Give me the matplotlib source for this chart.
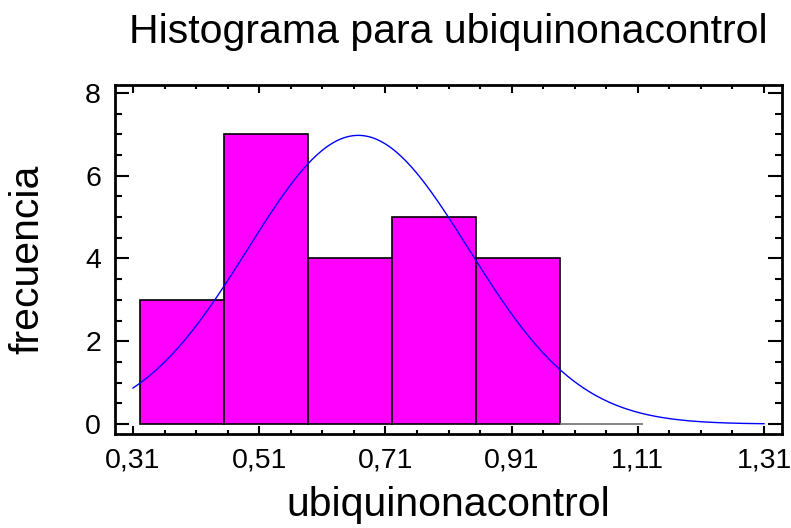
import numpy as np
import matplotlib
matplotlib.use("Agg")
import matplotlib.pyplot as plt
from matplotlib.ticker import FixedLocator, MultipleLocator, FuncFormatter

# ---- data ----
bin_edges = [0.321, 0.454, 0.587, 0.720, 0.853, 0.986, 1.119]
counts = [3, 7, 4, 5, 4, 0]
fit_mean = 0.667
fit_sd = 0.175
n_obs = 23
curve_range = [0.31, 1.31]
x_ticks = [0.31, 0.51, 0.71, 0.91, 1.11, 1.31]
y_ticks = [0, 2, 4, 6, 8]
title = "Histograma para ubiquinonacontrol"
xlabel = "ubiquinonacontrol"
ylabel = "frecuencia"

plt.rcParams['font.family'] = ['Liberation Sans', 'DejaVu Sans']

fig = plt.figure(figsize=(7.91, 5.28), dpi=100)
ax = fig.add_axes([115/791, 1-434/528, (782-115)/791, (434-85)/528])

edges = np.array(bin_edges)
widths = np.diff(edges)
lefts = edges[:-1]
ecolors = ['black' if c > 0 else '#707070' for c in counts]
ax.bar(lefts, counts, width=widths, align='edge', color='#FF00FF',
       edgecolor=ecolors, linewidth=1.2, zorder=2)

# fitted normal curve
bw = widths.mean()
xs = np.linspace(curve_range[0], curve_range[1], 400)
ys = n_obs * bw / (fit_sd * np.sqrt(2*np.pi)) * np.exp(-0.5*((xs-fit_mean)/fit_sd)**2)
ax.plot(xs, ys, color='#0000FF', linewidth=1.0, zorder=3)

ax.set_xlim(0.2815, 1.3385)
ax.set_ylim(-0.24, 8.19)

ax.xaxis.set_major_locator(FixedLocator(x_ticks))
ax.xaxis.set_minor_locator(MultipleLocator(0.05, offset=0.01))
ax.yaxis.set_major_locator(FixedLocator(y_ticks))
ax.yaxis.set_minor_locator(MultipleLocator(0.5))
ax.xaxis.set_major_formatter(FuncFormatter(lambda v, p: f"{v:.2f}".replace('.', ',')))
ax.yaxis.set_major_formatter(FuncFormatter(lambda v, p: f"{v:.0f}"))

ax.tick_params(axis='both', which='both', direction='in', top=True, right=True,
               labelsize=20.5, width=1.5)
ax.tick_params(axis='x', which='major', length=6, pad=10)
ax.tick_params(axis='x', which='minor', length=3)
ax.tick_params(axis='y', which='major', length=10, pad=10)
ax.tick_params(axis='y', which='minor', length=5)
for s in ax.spines.values():
    s.set_linewidth(2)

ax.set_title(title, fontsize=29.5, pad=30)
ax.set_xlabel(xlabel, fontsize=29.5, labelpad=9)
ax.set_ylabel(ylabel, fontsize=29.5, labelpad=28)

fig.savefig("out.png", dpi=100)
